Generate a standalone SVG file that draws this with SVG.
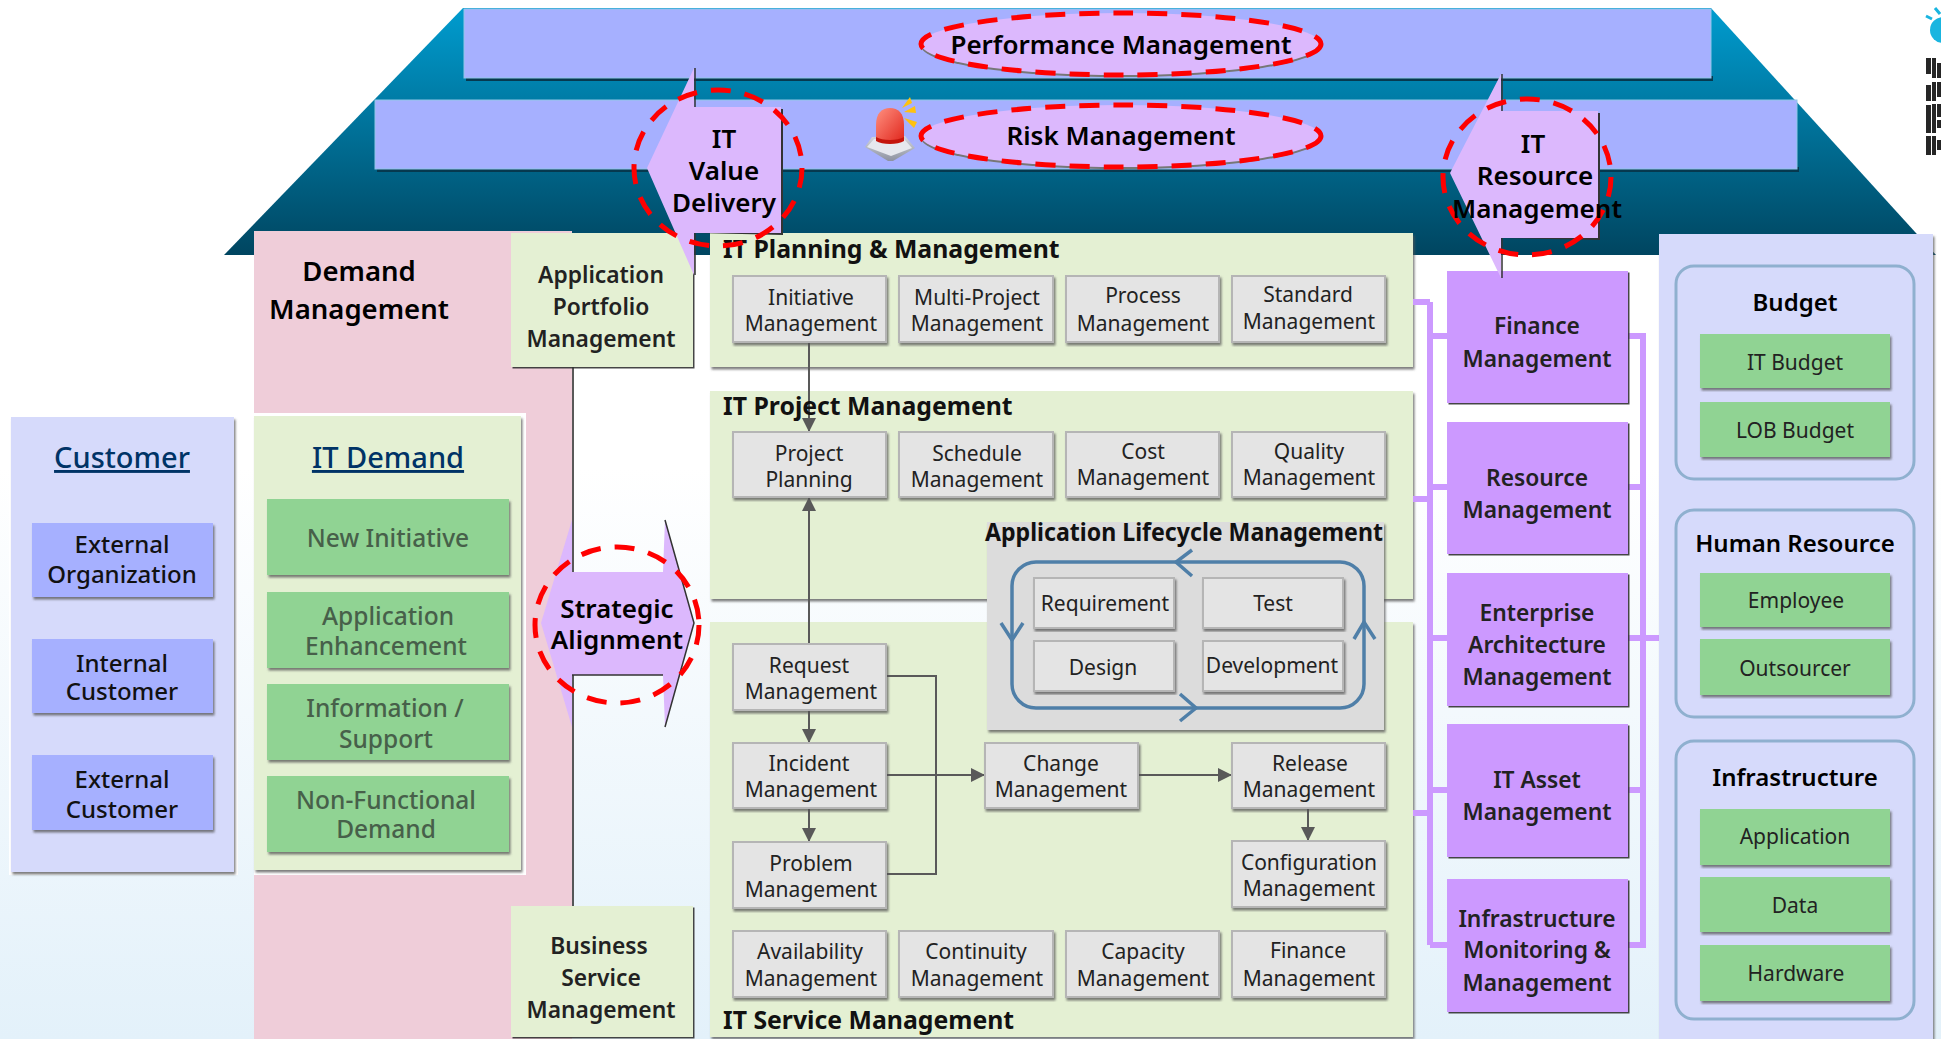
<svg xmlns="http://www.w3.org/2000/svg" width="1941" height="1039" viewBox="0 0 1941 1039">
<style>
text{font-family:"Noto Sans","DejaVu Sans",sans-serif;text-anchor:middle}
.band{fill:#a6b0ff;stroke:#8fc6e8;stroke-width:1}
.bandsh{fill:#06394f}
.panel{fill:#e4f0d3;filter:url(#sh)}
.cust{fill:#d6dafb;filter:url(#sh)}
.gray{fill:#e4e4e4;stroke:#b5b5b5;stroke-width:2;filter:url(#sh)}
.blue{fill:#a6b0ff;filter:url(#sh)}
.green{fill:#90d393;filter:url(#sh)}
.purple{fill:#cc99ff;filter:url(#dk)}
.pale{fill:#e4f0d3;filter:url(#dk)}
.arrow{fill:#dcb8fd}
.edge{fill:none;stroke:#222;stroke-width:1.5}
.dash{fill:none;stroke:#f00;stroke-width:5;stroke-dasharray:20 14}
.sub{fill:none;stroke:#8fb0cf;stroke-width:3}
.t{font-size:21px;fill:#222}
.d{font-size:24.5px;fill:#47604a;font-weight:500}
.s{font-size:24px;fill:#111;font-weight:500}
.m{font-size:22.8px;font-weight:600;fill:#222}
.k{font-size:26px;font-weight:600;fill:#000}
.h{font-size:24.8px;font-weight:700;fill:#111;text-anchor:start}
.l{font-size:29px;font-weight:500;fill:#003366;text-decoration:underline}
.c{fill:none;stroke:#595959;stroke-width:2}
.p{fill:none;stroke:#cc99ff;stroke-width:6}
.loop{fill:none;stroke:#4f7fa8;stroke-width:3.5}
</style>
<defs>
<linearGradient id="bg" x1="0" y1="0" x2="0" y2="1"><stop offset="0.45" stop-color="#fff"/><stop offset="1" stop-color="#e3f1fa"/></linearGradient>
<linearGradient id="roof" x1="0" y1="0" x2="0" y2="1"><stop offset="0" stop-color="#009ccf"/><stop offset="1" stop-color="#004560"/></linearGradient>
<linearGradient id="dome" x1="0" y1="0" x2="1" y2="1"><stop offset="0" stop-color="#ff9080"/><stop offset="1" stop-color="#e0261c"/></linearGradient>
<linearGradient id="base" x1="0" y1="0" x2="0" y2="1"><stop offset="0" stop-color="#d4d7de"/><stop offset="1" stop-color="#8d92a0"/></linearGradient>
<filter id="sh" x="-5%" y="-5%" width="110%" height="112%"><feDropShadow dx="1.5" dy="2.5" stdDeviation="0.8" flood-color="#555" flood-opacity="0.75"/></filter>
<filter id="dk" x="-5%" y="-5%" width="110%" height="110%"><feDropShadow dx="1.5" dy="1.5" stdDeviation="0.3" flood-color="#333" flood-opacity="0.9"/></filter>
<marker id="ah" markerUnits="userSpaceOnUse" markerWidth="14" markerHeight="14" refX="13" refY="7" orient="auto"><path d="M0 0L14 7L0 14Z" fill="#595959"/></marker>
</defs>
<rect width="1941" height="1039" fill="url(#bg)"/>
<g id="roof-shape">
<polygon points="463,8 1711,8 1936,255 224,255" fill="url(#roof)"/>
</g>
<g id="band-performance"><rect class="bandsh" x="466" y="76" width="1247" height="5"/><rect class="band" x="464" y="9" width="1247" height="69"/></g>
<g id="band-risk"><rect class="bandsh" x="377" y="167" width="1422" height="5"/><rect class="band" x="375" y="100" width="1422" height="69"/></g>
<g id="ibm-logo" fill="#262626">
<path d="M1926 58h5v16h-5zM1926 85h5v16h-5zM1926 105h5v28h-5zM1926 136h5v19h-5zM1932 58h4v20h-4zM1932 82h4v19h-4zM1932 104h4v29h-4zM1932 136h4v19h-4zM1937 63h4v15h-4zM1937 82h4v15h-4zM1937 104h4v13h-4zM1937 120h4v8h-4zM1937 140h4v10h-4z"/>
<circle cx="1943" cy="30" r="13" fill="#19b5e0"/><path d="M1926 16l6 3M1935 8l5 6" stroke="#19b5e0" stroke-width="3" fill="none"/>
</g>
<g id="demand-management"><rect x="254" y="231" width="318" height="808" fill="#efcdd9"/><path class="edge" d="M573 367V906"/>
<text class="k" style="font-size:27.5px"><tspan x="359" y="281">Demand</tspan><tspan x="359" y="319">Management</tspan></text></g>
<g id="application-portfolio"><rect class="pale" x="511" y="233" width="182" height="134"/><text class="m"><tspan x="601" y="283">Application</tspan><tspan x="601" y="315">Portfolio</tspan><tspan x="601" y="347">Management</tspan></text></g>
<g id="business-service"><rect class="pale" x="511" y="906" width="182" height="131"/><text class="m"><tspan x="599" y="954">Business</tspan><tspan x="601" y="986">Service</tspan><tspan x="601" y="1018">Management</tspan></text></g>
<g id="customer"><rect x="9" y="414" width="229" height="461" fill="#fff"/><rect class="cust" x="11" y="417" width="223" height="455"/><text class="l" x="122" y="468">Customer</text></g>
<g id="external-organization"><rect class="blue" x="32" y="523" width="181" height="74"/><text class="s"><tspan x="122" y="553">External</tspan><tspan x="122" y="583">Organization</tspan></text></g>
<g id="internal-customer"><rect class="blue" x="32" y="639" width="181" height="74"/><text class="s"><tspan x="122" y="672">Internal</tspan><tspan x="122" y="700">Customer</tspan></text></g>
<g id="external-customer"><rect class="blue" x="32" y="755" width="181" height="75"/><text class="s"><tspan x="122" y="788">External</tspan><tspan x="122" y="818">Customer</tspan></text></g>
<g id="it-demand"><rect x="254" y="413" width="272" height="462" fill="#fff"/><rect class="panel" x="254" y="416" width="267" height="454"/><text class="l" x="388" y="468">IT Demand</text></g>
<g id="new-initiative"><rect class="green" x="267" y="499" width="242" height="76"/><text class="d" x="388" y="547">New Initiative</text></g>
<g id="application-enhancement"><rect class="green" x="267" y="592" width="242" height="76"/><text class="d"><tspan x="388" y="625">Application</tspan><tspan x="386" y="655">Enhancement</tspan></text></g>
<g id="information-support"><rect class="green" x="267" y="684" width="242" height="76"/><text class="d"><tspan x="385" y="717">Information /</tspan><tspan x="386" y="748">Support</tspan></text></g>
<g id="non-functional"><rect class="green" x="267" y="776" width="242" height="76"/><text class="d"><tspan x="386" y="809">Non-Functional</tspan><tspan x="386" y="838">Demand</tspan></text></g>
<g id="it-planning"><rect class="panel" x="710" y="233" width="703" height="134"/></g>
<g id="it-project"><rect class="panel" x="710" y="391" width="703" height="208"/></g>
<g id="it-service"><rect class="panel" x="710" y="622" width="703" height="415"/></g>
<g id="application-lifecycle"><rect x="987" y="522" width="397" height="208" fill="#dcdcdc" filter="url(#sh)"/>
<rect class="loop" x="1012" y="562" width="352" height="146" rx="24"/>
<path class="loop" d="M1192 550L1176 562L1192 576M1001 623L1012 640L1023 623M1354 639L1364 622L1375 639M1180 694L1196 708L1180 721"/>
</g>
<g id="connectors">
<path class="c" d="M809 342V431" marker-end="url(#ah)"/>
<path class="c" d="M809 644V498" marker-end="url(#ah)"/>
<path class="c" d="M809 710V742" marker-end="url(#ah)"/>
<path class="c" d="M809 808V841" marker-end="url(#ah)"/>
<path class="c" d="M886 676H936V874H886"/>
<path class="c" d="M886 775H984" marker-end="url(#ah)"/>
<path class="c" d="M1138 775H1231" marker-end="url(#ah)"/>
<path class="c" d="M1308 808V840" marker-end="url(#ah)"/>
<path class="p" d="M1413 302H1430M1413 499H1430M1413 813H1430M1430 302V945M1430 336H1447M1430 487H1447M1430 638H1447M1430 790H1447M1430 945H1447"/>
<path class="p" d="M1628 336H1643V945H1628M1628 487H1643M1628 638H1659M1628 790H1643"/>
</g>
<g id="initiative"><rect class="gray" x="733" y="276" width="153" height="66"/><text class="t"><tspan x="811" y="305">Initiative</tspan><tspan x="811" y="331">Management</tspan></text></g>
<g id="multi-project"><rect class="gray" x="899" y="276" width="154" height="66"/><text class="t"><tspan x="977" y="305">Multi-Project</tspan><tspan x="977" y="331">Management</tspan></text></g>
<g id="process"><rect class="gray" x="1066" y="276" width="153" height="66"/><text class="t"><tspan x="1143" y="303">Process</tspan><tspan x="1143" y="331">Management</tspan></text></g>
<g id="standard"><rect class="gray" x="1232" y="276" width="153" height="66"/><text class="t"><tspan x="1308" y="302">Standard</tspan><tspan x="1309" y="329">Management</tspan></text></g>
<g id="project-planning"><rect class="gray" x="733" y="432" width="153" height="65"/><text class="t"><tspan x="809" y="461">Project</tspan><tspan x="809" y="487">Planning</tspan></text></g>
<g id="schedule"><rect class="gray" x="899" y="432" width="154" height="65"/><text class="t"><tspan x="977" y="461">Schedule</tspan><tspan x="977" y="487">Management</tspan></text></g>
<g id="cost"><rect class="gray" x="1066" y="432" width="153" height="65"/><text class="t"><tspan x="1143" y="459">Cost</tspan><tspan x="1143" y="485">Management</tspan></text></g>
<g id="quality"><rect class="gray" x="1232" y="432" width="153" height="65"/><text class="t"><tspan x="1309" y="459">Quality</tspan><tspan x="1309" y="485">Management</tspan></text></g>
<g id="request"><rect class="gray" x="733" y="644" width="153" height="66"/><text class="t"><tspan x="809" y="673">Request</tspan><tspan x="811" y="699">Management</tspan></text></g>
<g id="incident"><rect class="gray" x="733" y="743" width="153" height="65"/><text class="t"><tspan x="809" y="771">Incident</tspan><tspan x="811" y="797">Management</tspan></text></g>
<g id="problem"><rect class="gray" x="733" y="842" width="153" height="66"/><text class="t"><tspan x="811" y="871">Problem</tspan><tspan x="811" y="897">Management</tspan></text></g>
<g id="availability"><rect class="gray" x="733" y="931" width="153" height="66"/><text class="t"><tspan x="810" y="959">Availability</tspan><tspan x="811" y="986">Management</tspan></text></g>
<g id="continuity"><rect class="gray" x="899" y="931" width="154" height="66"/><text class="t"><tspan x="976" y="959">Continuity</tspan><tspan x="977" y="986">Management</tspan></text></g>
<g id="capacity"><rect class="gray" x="1066" y="931" width="153" height="66"/><text class="t"><tspan x="1143" y="959">Capacity</tspan><tspan x="1143" y="986">Management</tspan></text></g>
<g id="finance-service"><rect class="gray" x="1232" y="931" width="153" height="66"/><text class="t"><tspan x="1308" y="958">Finance</tspan><tspan x="1309" y="986">Management</tspan></text></g>
<g id="change"><rect class="gray" x="985" y="743" width="153" height="65"/><text class="t"><tspan x="1061" y="771">Change</tspan><tspan x="1061" y="797">Management</tspan></text></g>
<g id="release"><rect class="gray" x="1232" y="743" width="153" height="65"/><text class="t"><tspan x="1310" y="771">Release</tspan><tspan x="1309" y="797">Management</tspan></text></g>
<g id="configuration"><rect class="gray" x="1232" y="841" width="153" height="66"/><text class="t"><tspan x="1309" y="870">Configuration</tspan><tspan x="1309" y="896">Management</tspan></text></g>
<g id="requirement"><rect class="gray" x="1034" y="578" width="140" height="50"/><text class="t" x="1105" y="611">Requirement</text></g>
<g id="test"><rect class="gray" x="1203" y="578" width="140" height="50"/><text class="t" x="1273" y="611">Test</text></g>
<g id="design"><rect class="gray" x="1034" y="641" width="140" height="50"/><text class="t" x="1103" y="675">Design</text></g>
<g id="development"><rect class="gray" x="1203" y="641" width="140" height="50"/><text class="t" x="1272" y="673">Development</text></g>
<g id="section-titles">
<text class="h" x="723" y="258">IT Planning &amp; Management</text>
<text class="h" x="723" y="415">IT Project Management</text>
<text class="h" x="723" y="1029">IT Service Management</text>
<text class="h" x="985" y="541" textLength="398" lengthAdjust="spacingAndGlyphs">Application Lifecycle Management</text>
</g>
<g id="finance"><rect class="purple" x="1447" y="271" width="181" height="132"/><text class="m"><tspan x="1537" y="334">Finance</tspan><tspan x="1537" y="367">Management</tspan></text></g>
<g id="resource"><rect class="purple" x="1447" y="422" width="181" height="132"/><text class="m"><tspan x="1537" y="486">Resource</tspan><tspan x="1537" y="518">Management</tspan></text></g>
<g id="enterprise-architecture"><rect class="purple" x="1447" y="573" width="181" height="133"/><text class="m"><tspan x="1537" y="621">Enterprise</tspan><tspan x="1537" y="653">Architecture</tspan><tspan x="1537" y="685">Management</tspan></text></g>
<g id="it-asset"><rect class="purple" x="1447" y="724" width="181" height="133"/><text class="m"><tspan x="1537" y="788">IT Asset</tspan><tspan x="1537" y="820">Management</tspan></text></g>
<g id="infrastructure-monitoring"><rect class="purple" x="1447" y="879" width="181" height="133"/><text class="m"><tspan x="1537" y="927">Infrastructure</tspan><tspan x="1537" y="958">Monitoring &amp;</tspan><tspan x="1537" y="991">Management</tspan></text></g>
<g id="resources-panel"><rect class="cust" x="1659" y="234" width="274" height="805"/>
<rect class="sub" x="1676" y="266" width="238" height="213" rx="18"/>
<rect class="sub" x="1676" y="510" width="238" height="207" rx="18"/>
<rect class="sub" x="1676" y="741" width="238" height="278" rx="18"/>
<text class="m" style="font-size:24px;fill:#000"><tspan x="1795" y="311">Budget</tspan><tspan x="1795" y="552">Human Resource</tspan><tspan x="1795" y="786">Infrastructure</tspan></text></g>
<g id="it-budget"><rect class="green" x="1700" y="334" width="190" height="54"/><text class="t" x="1795" y="370">IT Budget</text></g>
<g id="lob-budget"><rect class="green" x="1700" y="402" width="190" height="55"/><text class="t" x="1795" y="438">LOB Budget</text></g>
<g id="employee"><rect class="green" x="1700" y="573" width="190" height="54"/><text class="t" x="1796" y="608">Employee</text></g>
<g id="outsourcer"><rect class="green" x="1700" y="639" width="190" height="56"/><text class="t" x="1795" y="676">Outsourcer</text></g>
<g id="application"><rect class="green" x="1700" y="809" width="190" height="56"/><text class="t" x="1795" y="844">Application</text></g>
<g id="data"><rect class="green" x="1700" y="877" width="190" height="55"/><text class="t" x="1795" y="913">Data</text></g>
<g id="hardware"><rect class="green" x="1700" y="945" width="190" height="56"/><text class="t" x="1796" y="981">Hardware</text></g>
<g id="performance-management"><ellipse cx="1121" cy="46" rx="200" ry="31" fill="#777"/><ellipse class="arrow" cx="1121" cy="44" rx="200" ry="31"/><ellipse class="dash" cx="1121" cy="44" rx="200" ry="31"/><text class="k" x="1121" y="54">Performance Management</text></g>
<g id="risk-management"><ellipse cx="1121" cy="138" rx="200" ry="31" fill="#777"/><ellipse class="arrow" cx="1121" cy="136" rx="200" ry="31"/><ellipse class="dash" cx="1121" cy="136" rx="200" ry="31"/><text class="k" x="1121" y="145">Risk Management</text></g>
<g id="siren">
<polygon points="865,147 872,137 905,136 915,148 893,161 888,161" fill="url(#base)"/>
<path d="M867 147L874 139H904L912 148L891 156Z" fill="#e6e8ee"/>
<path d="M876 139V125C876 113 882 108 890 108C898 108 904 113 904 125V139C898 143 882 143 876 139Z" fill="url(#dome)"/>
<path d="M876 137C882 141 898 141 904 137V141C898 145 882 145 876 141Z" fill="#c4140c"/>
<path d="M902 108L910 97L912 103ZM904 112L915 106L916 113ZM904 118L917 122L914 128Z" fill="#ffc20e"/>
</g>
<g id="it-value-delivery"><polygon points="696,233 783,235 783,109 696,107" fill="#333"/><polygon class="arrow" points="694,68 694,107 781,107 781,233 694,233 694,275 647,168"/><path d="M695 68V107M695 233V275" stroke="#333" stroke-width="1.5"/><ellipse class="dash" cx="718" cy="168" rx="84" ry="78"/><text class="k"><tspan x="724" y="148">IT</tspan><tspan x="724" y="180">Value</tspan><tspan x="724" y="212">Delivery</tspan></text></g>
<g id="it-resource-management"><polygon points="1503,238 1600,240 1600,113 1503,111" fill="#333"/><polygon class="arrow" points="1501,74 1501,111 1598,111 1598,238 1501,238 1501,278 1450,173"/><path d="M1502 74V111M1502 238V278" stroke="#333" stroke-width="1.5"/><ellipse class="dash" cx="1527" cy="177" rx="84" ry="78"/><text class="k"><tspan x="1533" y="153">IT</tspan><tspan x="1535" y="185">Resource</tspan><tspan x="1537" y="218">Management</tspan></text></g>
<g id="strategic-alignment"><polygon class="arrow" points="572,520 572,572 663,572 665,520 694,623 665,727 663,675 572,675 572,727 541,623"/><path d="M572 675H663M665 520L694 623L665 727" fill="none" stroke="#333" stroke-width="1.5"/><ellipse class="dash" cx="617" cy="625" rx="82" ry="78"/><text class="k"><tspan x="617" y="618">Strategic</tspan><tspan x="617" y="649">Alignment</tspan></text></g>
</svg>
